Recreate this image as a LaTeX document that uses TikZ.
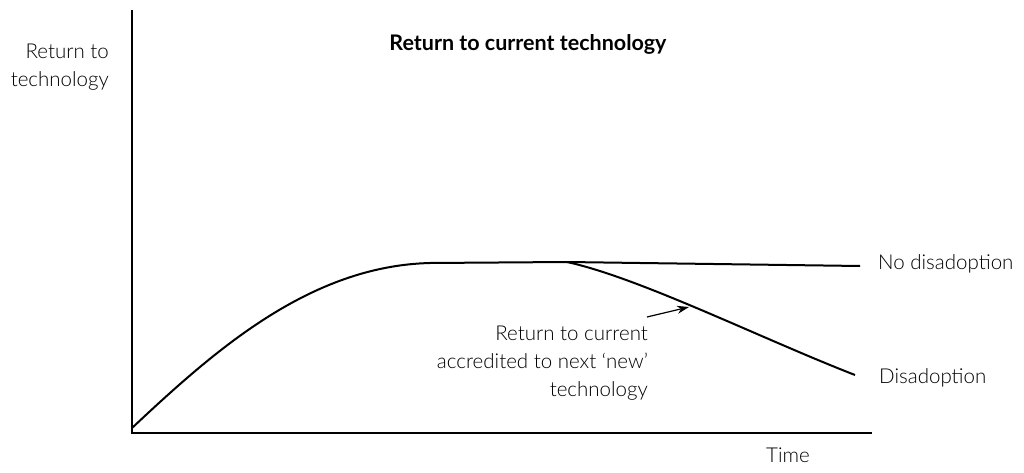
\documentclass[tikz,border=0pt]{standalone}
\usepackage{fontspec}
\setmainfont{Lato Light}[BoldFont={Lato Bold}]
\usetikzlibrary{arrows.meta}
\begin{document}
\begin{tikzpicture}[x=1pt,y=-1pt,
  axis/.style={line width=1.3pt},
  curve/.style={line width=2pt},
  lbl/.style={font=\fontsize{20.5}{28}\selectfont, inner sep=0pt},
  pointer/.style={line width=1.2pt,-{Stealth[length=12pt,width=8pt]}}]
  \useasboundingbox (0,0) rectangle (1024,473);
  % axes
  \coordinate (top) at (132,10);
  \coordinate (origin) at (132,433);
  \coordinate (xend) at (872,433);
  \draw[axis] (top) -- (origin) -- (xend);
  % labels
  \node[lbl, align=right, anchor=east] (ylab) at (109,67) {Return to\\technology};
  \node[lbl, font=\fontsize{21.5}{28}\selectfont\bfseries] (title) at (528,44) {Return to current technology};
  \node[lbl, anchor=center] (time) at (788,455) {Time};
  % adoption curve up to the plateau, then the two branches
  \coordinate (start) at (132,428);
  \coordinate (plat) at (430,263);
  \coordinate (split) at (567,262);
  \coordinate (flatend) at (860,266);
  \coordinate (dropend) at (855,375);
  \draw[curve] (start) .. controls (215,350) and (310,266) .. (plat) -- (split) -- (flatend);
  \draw[curve] (split) .. controls (640,278) and (760,338) .. (dropend);
  \node[lbl, anchor=west] (nodis) at (878,264) {No disadoption};
  \node[lbl, anchor=west] (dis) at (879,378) {Disadoption};
  % annotation
  \node[lbl, align=right, anchor=north east] (note) at (648,326) {Return to current\\accredited to next ‘new’\\technology};
  \coordinate (tail) at (647,317);
  \coordinate (head) at (689,307);
  \draw[pointer] (tail) -- (head);
\end{tikzpicture}
\end{document}
